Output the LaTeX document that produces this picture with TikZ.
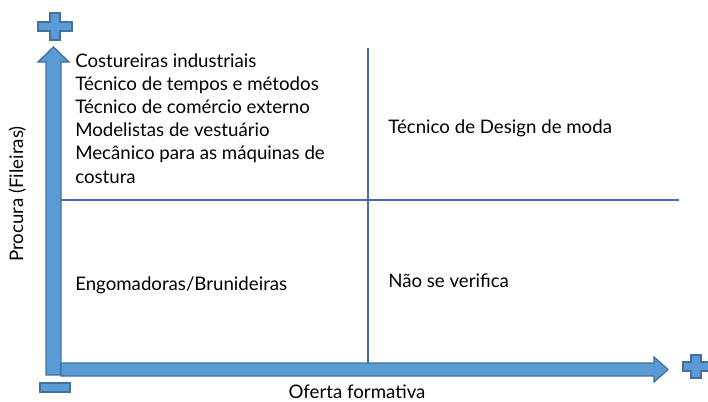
\documentclass[tikz,border=0pt]{standalone}
\usepackage{fontspec}
\setmainfont{Lato}
\definecolor{arrowfill}{HTML}{5B9BD5}
\definecolor{arrowedge}{HTML}{41719C}
\definecolor{gridblue}{HTML}{4A6BB0}
\tikzset{
  blockarrow/.style={fill=arrowfill, draw=arrowedge, line width=1pt},
  gridline/.style={draw=gridblue, line width=0.9pt},
  quadtext/.style={font=\fontsize{14}{17.4}\selectfont, inner sep=0pt, align=left}
}

\begin{document}
\begin{tikzpicture}[x=0.75pt, y=-0.75pt]
\useasboundingbox (0,0) rectangle (708,401);

% axes
\draw[blockarrow] (46,375) -- (46,62) -- (38,62) -- (53.5,47) -- (69,62) -- (61,62) -- (61,375) -- cycle;
\draw[blockarrow] (61,363) -- (654,363) -- (654,357) -- (668,369.5) -- (654,382) -- (654,376) -- (61,376) -- cycle;

% signs
\draw[blockarrow] (50,13) -- (60,13) -- (60,22) -- (72,22) -- (72,31) -- (60,31) -- (60,40) -- (50,40) -- (50,31) -- (38,31) -- (38,22) -- (50,22) -- cycle;
\draw[blockarrow] (691,355) -- (701,355) -- (701,362) -- (712,362) -- (712,371) -- (701,371) -- (701,378) -- (691,378) -- (691,371) -- (683,371) -- (683,362) -- (691,362) -- cycle;
\draw[blockarrow] (40,383) rectangle (70,392);

% quadrants
\draw[gridline] (368,48) -- (368,363);
\draw[gridline] (61,200) -- (679,200);

\node[quadtext, anchor=base west] (highlow) at (75,183) {Costureiras industriais\\Técnico de tempos e métodos\\Técnico de comércio externo\\Modelistas de vestuário\\Mecânico para as máquinas de\\costura};
\node[quadtext, anchor=base west] (highhigh) at (388,133) {Técnico de Design de moda};
\node[quadtext, anchor=base west] (lowlow) at (75,290) {Engomadoras/Brunideiras};
\node[quadtext, anchor=base west] (lowhigh) at (388,287) {Não se verifica};

\node[quadtext, anchor=base] (xlabel) at (357,398) {Oferta formativa};
\node[quadtext, anchor=base, rotate=90] (ylabel) at (23,194) {Procura (Fileiras)};
\end{tikzpicture}
\end{document}
